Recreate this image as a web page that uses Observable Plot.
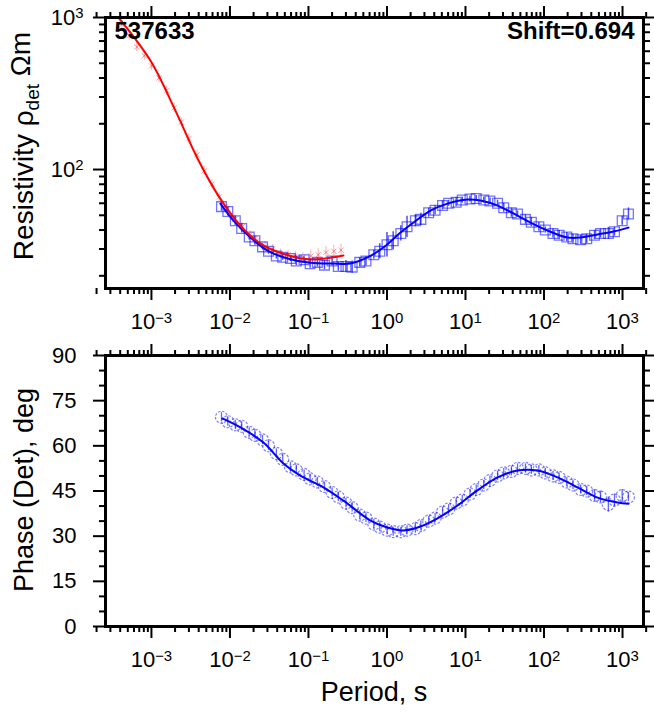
<!DOCTYPE html>
<html><head><meta charset="utf-8">
<script src="https://cdn.jsdelivr.net/npm/d3@7"></script>
<script src="https://cdn.jsdelivr.net/npm/@observablehq/plot@0.6"></script>
<style>
body{margin:0;background:#fff;}
#chart{width:654px;height:717px;font-family:"Liberation Sans",Arial,sans-serif;background:#fff;}
#chart svg{display:block}
</style></head><body><div id="chart"></div>
<script>
// ---------- data ----------
const periods = [0.0078,0.0094,0.0117,0.0141,0.0176,0.0208,0.026,0.031,0.039,0.047,0.059,0.070,0.088,0.105,0.13,0.16,0.20,0.24,0.30,0.36,0.45,0.54,0.68,0.81,1.0,1.2,1.5,1.8,2.3,2.7,3.4,4.1,5.1,6.1,7.6,9.1,11.4,13.7,17.1,20.5,25.6,30.7,38.4,46,58,69,86,104,130,156,195,234,293,350,440,525,660,790,990,1190];
const rhoObs = [57,53,46,41,36,34,31,29,27,26.5,26,25,25.5,24,24.5,23.5,25,23,23,22.8,24.5,25,27.5,29,32,34,38,42,46,47,52,54,58,60,61,63,64,64.5,63,62,60,56,52,51,47,45,42,40,38,37,36,35,34.5,35,37,38,38,39,46,51];
const rhoErr = [0.03,0.03,0.03,0.03,0.02,0.03,0.02,0.02,0.02,0.02,0.02,0.03,0.02,0.03,0.03,0.03,0.03,0.03,0.04,0.04,0.03,0.03,0.03,0.05,0.08,0.06,0.05,0.07,0.04,0.04,0.03,0.03,0.03,0.02,0.03,0.02,0.02,0.02,0.02,0.02,0.02,0.03,0.03,0.02,0.03,0.03,0.03,0.02,0.03,0.03,0.03,0.03,0.03,0.03,0.03,0.03,0.04,0.03,0.03,0.04];
const phaseObs = [69.5,68,67,66.5,64.5,63.5,62,60,57.5,55.5,53,52,50.5,49,48,46.5,44.5,43,41,39.5,37,36,34,33,32,31.5,31.5,32,32.5,33.5,35,36,38,39,41,42,44,45.5,47,48.5,50,51,51.5,52.5,52.5,52,52,51,50,49.5,48,47,45.5,45,43.5,43,40.5,42,43.5,43];
const phaseErr = [1.5,1.5,1.5,1.5,1.5,1.5,1.5,1.5,1.5,1.5,1.5,1.5,1.5,1.5,1.5,1.5,1.5,1.5,1.5,1.5,1.5,1.5,1.5,1.5,1.5,1.5,1.5,1.5,1.5,1.5,1.5,1.5,1.5,1.5,1.5,1.5,1.5,1.5,1.5,1.5,1.5,1.5,1.5,1.5,1.5,1.5,1.5,1.5,1.5,1.5,1.5,1.5,1.5,1.5,2,2,2.5,2,2,1.5];

const redPeriods = [0.00042,0.00052,0.00065,0.00081,0.001,0.00125,0.00156,0.00195,0.0024,0.003,0.0038,0.0047,0.0059,0.0073,0.0092,0.0115,0.0143,0.018,0.022,0.028,0.035,0.044,0.055,0.068,0.085,0.107,0.133,0.167,0.21,0.26];
const redRho = [900,760,640,560,480,400,330,255,205,160,125,98,80,66,55,47,42,37,34,31,30,28,27.5,27,26.5,27,27.5,28.5,29,29.5];
const redErr = [0.03,0.03,0.03,0.03,0.03,0.03,0.03,0.03,0.03,0.03,0.03,0.03,0.03,0.03,0.03,0.03,0.03,0.03,0.03,0.03,0.03,0.03,0.03,0.03,0.03,0.04,0.04,0.04,0.04,0.04];

const modelRedT   = [0.00038,0.00097,0.00202,0.00397,0.0071,0.0136,0.0245,0.051,0.106,0.279];
const modelRedRho = [1000,521,244,115,67.4,42.8,32.6,27.6,25.6,27.2];

const modelBlueT   = [0.00757,0.0111,0.0182,0.0301,0.054,0.106,0.208,0.343,0.565,0.902,1.49,2.18,3.58,5.9,10.6,15.5,25.6,40.8,67.3,111,199,292,481,768,1192];
const modelBlueRho = [59.7,46.1,35.7,29.3,26.0,24.4,24.1,24.1,26.4,30.7,38.5,44.8,53.7,59.7,63.5,62.5,57.9,51.4,44.8,39.7,35.7,35.7,37.4,39.1,41.5];

const modelPhaseT = [0.008,0.0136,0.0267,0.048,0.079,0.155,0.279,0.617,1.01,1.62,2.67,4.4,7.91,14.2,25.6,45.9,82.6,149,267,481,863,1192];
const modelPhase  = [69.1,66.1,61.1,54.1,50.1,46.2,41.8,35.2,32.9,31.9,33.2,35.9,40.2,45.2,49.5,51.8,51.8,49.5,46.2,42.8,41.2,40.8];

const xMajorTicks = [1e-3,1e-2,1e-1,1,10,100,1000];
const rhoMajorTicks = [100,1000];
const phaseMajorTicks = [0,15,30,45,60,75,90];
const stationName = "537633";
const shiftLabel = "Shift=0.694";
const yLabelTop = ["Resistivity \u03c1", "det", " \u03a9m"];
const yLabelBottom = "Phase (Det), deg";
const xLabel = "Period, s";

// ---------- derived tables ----------
const blue = periods.map((T,i)=>({T, rho:rhoObs[i], e:rhoErr[i], ph:phaseObs[i], pe:phaseErr[i]}));
const red = redPeriods.map((T,i)=>({T, rho:redRho[i], e:redErr[i]}));
const redModel = modelRedT.map((T,i)=>({T, rho:modelRedRho[i]}));
const blueModel = modelBlueT.map((T,i)=>({T, rho:modelBlueRho[i]}));
const phModel = modelPhaseT.map((T,i)=>({T, ph:modelPhase[i]}));

const minorLog = (lo,hi)=>{const a=[];for(let e=lo;e<=hi;e++)for(let k=2;k<=9;k++)a.push(k*10**e);return a;};
const xMinorTicks = minorLog(-4,3);
const rhoMinorTicks = minorLog(1,2);
const phaseMinorTicks = d3.range(0,91,5).filter(v=>v%15!==0);

const FONT = "'Liberation Sans', Arial, sans-serif";
const BLUE = "#0000ff", RED = "#ff0000";
const fmtPow = d => `10^${Math.round(Math.log10(d))}`;
const blank = () => "";
const TK = 12, TKm = 6, TW = 2;
const xOpts = {type:"log", domain:[2.6e-4,1850]};

function xAxes(){
  return [
    Plot.axisX({anchor:"bottom", ticks:xMajorTicks, tickSize:TK, tickPadding:13, tickFormat:fmtPow, strokeWidth:TW, label:null}),
    Plot.axisX({anchor:"bottom", ticks:xMinorTicks, tickSize:TKm, tickFormat:blank, strokeWidth:TW, label:null}),
    Plot.axisX({anchor:"top", ticks:xMajorTicks, tickSize:TK, tickFormat:blank, strokeWidth:TW, label:null}),
    Plot.axisX({anchor:"top", ticks:xMinorTicks, tickSize:TKm, tickFormat:blank, strokeWidth:TW, label:null})
  ];
}
function yAxes(major, minor, fmt, pad){
  return [
    Plot.axisY({anchor:"left", ticks:major, tickSize:TK, tickPadding:pad, tickFormat:fmt, strokeWidth:TW, label:null}),
    Plot.axisY({anchor:"left", ticks:minor, tickSize:TKm, tickFormat:blank, strokeWidth:TW, label:null}),
    Plot.axisY({anchor:"right", ticks:major, tickSize:TK, tickFormat:blank, strokeWidth:TW, label:null}),
    Plot.axisY({anchor:"right", ticks:minor, tickSize:TKm, tickFormat:blank, strokeWidth:TW, label:null})
  ];
}

const topPlot = Plot.plot({
  width:654, height:340, marginLeft:105, marginRight:11, marginTop:17, marginBottom:52,
  style:{fontFamily:FONT, fontSize:"22px", background:"white", color:"black", overflow:"visible"},
  x:xOpts,
  y:{type:"log", domain:[16.5,1000]},
  marks:[
    Plot.ruleX(red, {x:"T", y1:d=>d.rho/10**d.e, y2:d=>d.rho*10**d.e, stroke:RED, strokeOpacity:0.3, strokeWidth:1, clip:true}),
    Plot.dot(red, {x:"T", y:"rho", symbol:"times", r:2.5, stroke:RED, strokeOpacity:0.4, strokeWidth:1, clip:true}),
    Plot.ruleX(blue, {x:"T", y1:d=>d.rho/10**d.e, y2:d=>d.rho*10**d.e, stroke:BLUE, strokeOpacity:0.7, strokeWidth:1.5}),
    Plot.dot(blue, {x:"T", y:"rho", symbol:"square", r:5.5, stroke:BLUE, strokeOpacity:0.55, strokeWidth:1.3, fill:"none"}),
    Plot.line(blueModel, {x:"T", y:"rho", stroke:BLUE, strokeWidth:2, curve:"catmull-rom"}),
    Plot.line(redModel, {x:"T", y:"rho", stroke:RED, strokeWidth:2, curve:"catmull-rom", clip:true}),
    Plot.text([stationName], {frameAnchor:"top-left", text:d=>d, dx:9, dy:4, fontWeight:"bold", fontSize:24, textAnchor:"start"}),
    Plot.text([shiftLabel], {frameAnchor:"top-right", text:d=>d, dx:-9, dy:4, fontWeight:"bold", fontSize:24, textAnchor:"end"}),
    ...xAxes(),
    ...yAxes(rhoMajorTicks, rhoMinorTicks, fmtPow, 10),
    Plot.frame({strokeWidth:3})
  ]
});

const botPlot = Plot.plot({
  width:654, height:377, marginLeft:105, marginRight:11, marginTop:15, marginBottom:91,
  style:{fontFamily:FONT, fontSize:"22px", background:"white", color:"black", overflow:"visible"},
  x:xOpts,
  y:{domain:[0,90]},
  marks:[
    Plot.ruleX(blue, {x:"T", y1:d=>d.ph-d.pe, y2:d=>d.ph+d.pe, stroke:BLUE, strokeOpacity:0.6, strokeWidth:1.3}),
    Plot.dot(blue, {x:"T", y:"ph", r:6, stroke:BLUE, strokeOpacity:0.5, strokeWidth:1.2, strokeDasharray:"2.5,1.5", fill:"none"}),
    Plot.line(phModel, {x:"T", y:"ph", stroke:BLUE, strokeWidth:2, curve:"catmull-rom"}),
    ...xAxes(),
    ...yAxes(phaseMajorTicks, phaseMinorTicks, d=>String(d), 17),
    Plot.frame({strokeWidth:3})
  ]
});

function supify(root){
  d3.select(root).selectAll("text").each(function(){
    const t = this.textContent;
    const m = /^10\^(-?\d+)$/.exec(t);
    if(!m) return;
    const s = d3.select(this);
    s.text(null);
    s.append("tspan").text("10");
    s.append("tspan").attr("dy","-0.42em").attr("font-size","0.68em").text(m[1].replace("-","\u2212"));
  });
}
supify(topPlot); supify(botPlot);

// axis titles
const tl = d3.select(topPlot).append("text")
  .attr("transform","translate(33,146) rotate(-90)")
  .attr("text-anchor","middle").attr("font-size",28).attr("fill","black").attr("font-family",FONT);
tl.append("tspan").text(yLabelTop[0]);
tl.append("tspan").attr("dy","0.3em").attr("font-size","0.68em").text(yLabelTop[1]);
tl.append("tspan").attr("dy","-0.3em").text(yLabelTop[2]);

d3.select(botPlot).append("text")
  .attr("transform","translate(33,150) rotate(-90)")
  .attr("text-anchor","middle").attr("font-size",27).attr("fill","black").attr("font-family",FONT)
  .text(yLabelBottom);

d3.select(botPlot).append("text")
  .attr("x",374).attr("y",361)
  .attr("text-anchor","middle").attr("font-size",27).attr("fill","black").attr("font-family",FONT)
  .text(xLabel);

const c = document.getElementById("chart");
c.appendChild(topPlot);
c.appendChild(botPlot);
</script></body></html>
